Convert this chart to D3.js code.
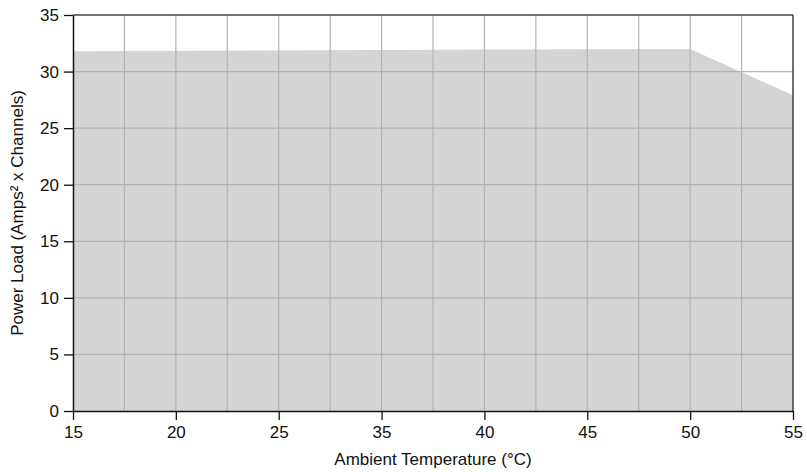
<!DOCTYPE html>
<html>
<head>
<meta charset="utf-8">
<script src="https://cdn.jsdelivr.net/npm/d3@7"></script>
<style>
  body { margin: 0; background: #fff; }
  text { font-family: "Liberation Sans", Arial, Helvetica, sans-serif; fill: #111; }
</style>
</head>
<body>
<script>
// x positions are tick slots; the original labels skip "30"
const xTickLabels = ["15", "20", "25", "35", "40", "45", "50", "55"];
const yTicks = [0, 5, 10, 15, 20, 25, 30, 35];
const loadX = [0, 6, 7];
const loadY = [31.8, 32.0, 27.9];

const width = 807, height = 472;
const margin = {top: 15, right: 14, bottom: 61, left: 73};

const svg = d3.select("body").append("svg")
    .attr("width", width)
    .attr("height", height);

const x = d3.scaleLinear().domain([0, xTickLabels.length - 1])
    .range([margin.left, width - margin.right]);
const y = d3.scaleLinear().domain([0, 35])
    .range([height - margin.bottom, margin.top]);

const data = loadX.map((d, i) => ({x: d, y: loadY[i]}));

// grey area under the derating curve
const area = d3.area()
    .x(d => x(d.x))
    .y0(y(0))
    .y1(d => y(d.y));

svg.append("path")
    .datum(data)
    .attr("d", area)
    .attr("fill", "#d3d4d6");

// grid
const vGrid = d3.range(0.5, xTickLabels.length - 1, 0.5);
svg.append("g").selectAll("line")
    .data(vGrid)
    .join("line")
    .attr("x1", d => x(d)).attr("x2", d => x(d))
    .attr("y1", y(0)).attr("y2", y(35))
    .attr("stroke", "#b3b3b3")
    .attr("stroke-width", 1.2);

svg.append("g").selectAll("line")
    .data(yTicks.filter(d => d > 0 && d < 35))
    .join("line")
    .attr("x1", x(0)).attr("x2", x(7))
    .attr("y1", d => y(d)).attr("y2", d => y(d))
    .attr("stroke", "#b3b3b3")
    .attr("stroke-width", 1.2);

// frame top/right
svg.append("line")
    .attr("x1", x(0)).attr("x2", x(7))
    .attr("y1", y(35)).attr("y2", y(35))
    .attr("stroke", "#444").attr("stroke-width", 1.3);
svg.append("line")
    .attr("x1", x(7)).attr("x2", x(7))
    .attr("y1", y(35)).attr("y2", y(0))
    .attr("stroke", "#222").attr("stroke-width", 1.3);

// axes
const xAxis = svg.append("g")
    .attr("transform", `translate(0,${y(0)})`)
    .call(d3.axisBottom(x)
        .tickValues(d3.range(xTickLabels.length))
        .tickFormat(i => xTickLabels[i])
        .tickSize(9)
        .tickSizeOuter(0));

const yAxis = svg.append("g")
    .attr("transform", `translate(${x(0)},0)`)
    .call(d3.axisLeft(y)
        .tickValues(yTicks)
        .tickSize(9)
        .tickSizeOuter(0));

[xAxis, yAxis].forEach(g => {
    g.selectAll(".domain").attr("stroke", "#111").attr("stroke-width", 1.5);
    g.selectAll(".tick line").attr("stroke", "#111").attr("stroke-width", 1.3);
    g.selectAll(".tick text")
        .style("font-family", '"Liberation Sans", Arial, sans-serif')
        .style("font-size", "17px")
        .attr("fill", "#111");
});
xAxis.selectAll(".tick text").attr("dy", "0.9em");
yAxis.selectAll(".tick text").attr("x", -14);

// titles
svg.append("text")
    .attr("x", (x(0) + x(7)) / 2)
    .attr("y", 465)
    .attr("text-anchor", "middle")
    .style("font-size", "17px")
    .text("Ambient Temperature (°C)");

svg.append("text")
    .attr("transform", `translate(23,${(y(0) + y(35)) / 2}) rotate(-90)`)
    .attr("text-anchor", "middle")
    .style("font-size", "17px")
    .text("Power Load (Amps² x Channels)");
</script>
</body>
</html>
